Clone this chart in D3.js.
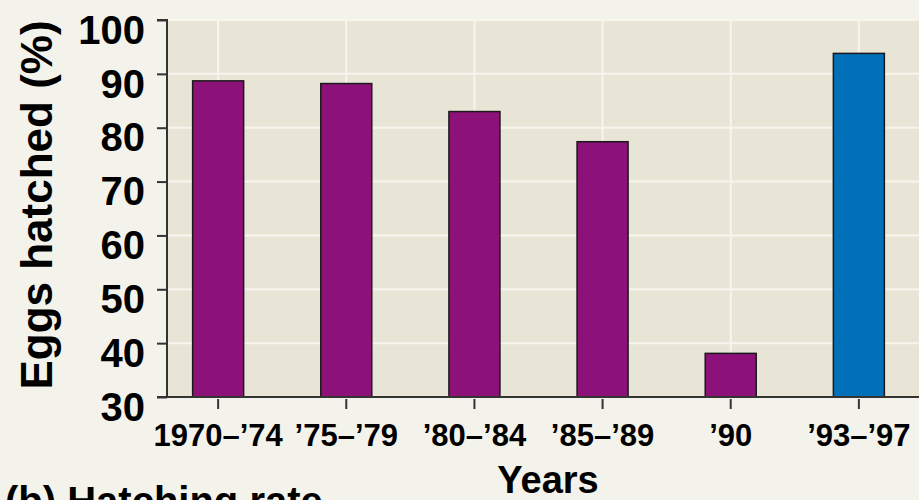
<!DOCTYPE html>
<html>
<head>
<meta charset="utf-8">
<script src="https://cdn.jsdelivr.net/npm/d3@7"></script>
<style>
  html, body { margin: 0; padding: 0; background: #f3f2eb; }
  svg { display: block; font-family: "Liberation Sans", Arial, Helvetica, sans-serif; font-weight: bold; }
</style>
</head>
<body>
<svg id="chart" width="919" height="500"></svg>
<script>
// data
var periods = ['1970\u2013\u201974', '\u201975\u2013\u201979', '\u201980\u2013\u201984', '\u201985\u2013\u201989', '\u201990', '\u201993\u2013\u201997'];
var hatched = [88.7, 88.2, 83.0, 77.4, 38.1, 93.8];
var barColors = ['#8c1279', '#8c1279', '#8c1279', '#8c1279', '#8c1279', '#0070b9'];
var yTicks = [30, 40, 50, 60, 70, 80, 90, 100];

var width = 919, height = 500;
var plotLeft = 167, plotTop = 20, plotBottom = 397, plotRight = 910;

var svg = d3.select('#chart');

var x = d3.scaleBand()
    .domain(periods)
    .range([plotLeft, plotRight])
    .paddingInner(0.602)
    .paddingOuter(0.2);

var y = d3.scaleLinear()
    .domain([30, 100])
    .range([plotBottom, plotTop]);

// plot background
svg.append('rect')
    .attr('x', plotLeft)
    .attr('y', plotTop)
    .attr('width', width - plotLeft)
    .attr('height', plotBottom - plotTop)
    .attr('fill', '#e8e4d6');

// grid
svg.append('g')
    .selectAll('line')
    .data(yTicks.slice(1))
    .enter()
    .append('line')
    .attr('x1', plotLeft).attr('x2', width)
    .attr('y1', (d) => y(d)).attr('y2', (d) => y(d))
    .attr('stroke', '#f7f5ee')
    .attr('stroke-width', 2);

svg.append('g')
    .selectAll('line')
    .data(periods)
    .enter()
    .append('line')
    .attr('x1', (d) => x(d) + x.bandwidth() / 2)
    .attr('x2', (d) => x(d) + x.bandwidth() / 2)
    .attr('y1', plotTop).attr('y2', plotBottom)
    .attr('stroke', '#f7f5ee')
    .attr('stroke-width', 2);

// bars
svg.append('g')
    .selectAll('rect')
    .data(hatched)
    .enter()
    .append('rect')
    .attr('x', (d, i) => x(periods[i]))
    .attr('y', (d) => y(d))
    .attr('width', x.bandwidth())
    .attr('height', (d) => plotBottom - y(d))
    .attr('fill', (d, i) => barColors[i])
    .attr('stroke', '#1a1a1a')
    .attr('stroke-width', 1.5);

// y axis
var yAxis = svg.append('g')
    .attr('transform', 'translate(' + plotLeft + ',0)')
    .call(d3.axisLeft(y).tickValues(yTicks).tickSize(10).tickPadding(12));
yAxis.select('.domain').attr('stroke', '#333').attr('stroke-width', 2).attr('d', 'M-10,' + plotTop + 'H0V' + plotBottom + 'H-10');
yAxis.selectAll('.tick line').attr('stroke', '#333').attr('stroke-width', 2);
yAxis.selectAll('.tick text')
    .attr('font-size', 40)
    .attr('font-weight', 'bold')
    .attr('font-family', '"Liberation Sans", Arial, sans-serif')
    .attr('fill', '#000')
    .attr('dy', '0.58em');

// x axis
var xAxis = svg.append('g')
    .attr('transform', 'translate(0,' + plotBottom + ')')
    .call(d3.axisBottom(x).tickSize(12).tickPadding(20));
xAxis.select('.domain').attr('stroke', '#333').attr('stroke-width', 2).attr('d', 'M' + plotLeft + ',0H' + width);
xAxis.selectAll('.tick line').attr('stroke', '#333').attr('stroke-width', 2).attr('y1', 2);
xAxis.selectAll('.tick text')
    .attr('font-size', 31)
    .attr('font-weight', 'bold')
    .attr('font-family', '"Liberation Sans", Arial, sans-serif')
    .attr('fill', '#000')
    .attr('dy', '0.55em');

// axis titles
svg.append('text')
    .attr('transform', 'translate(52,205) rotate(-90)')
    .attr('text-anchor', 'middle')
    .attr('font-size', 44)
    .text('Eggs hatched (%)');

svg.append('text')
    .attr('x', 548)
    .attr('y', 493)
    .attr('text-anchor', 'middle')
    .attr('font-size', 38)
    .text('Years');

svg.append('text')
    .attr('x', 5)
    .attr('y', 515)
    .attr('font-size', 40)
    .text('(b) Hatching rate');
</script>
</body>
</html>
